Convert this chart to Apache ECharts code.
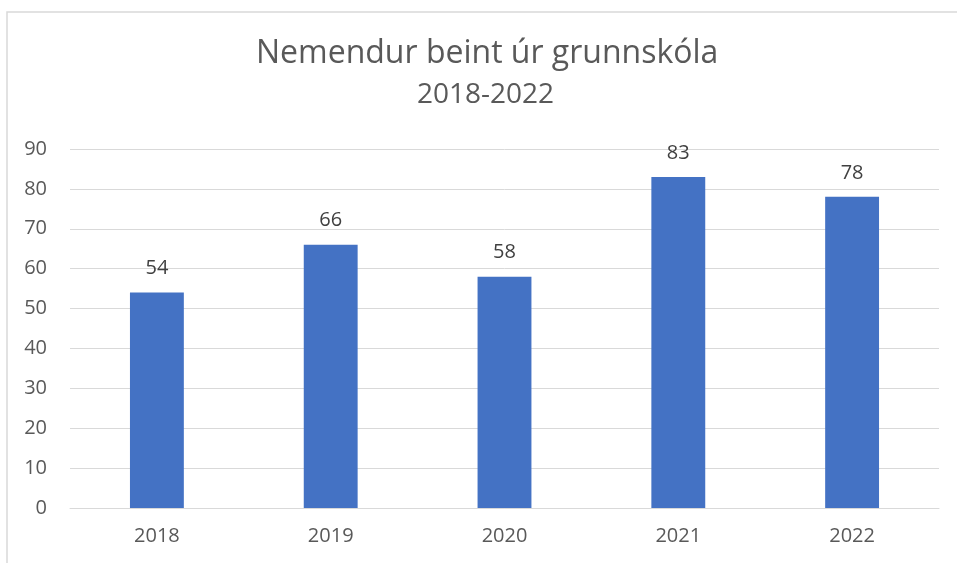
<!DOCTYPE html>
<html>
<head>
<meta charset="utf-8">
<script src="https://cdn.jsdelivr.net/npm/echarts@6/dist/echarts.min.js"></script>
<style>
  html, body { margin: 0; padding: 0; background: #fff; }
  #chart { width: 957px; height: 563px; }
</style>
</head>
<body>
<div id="chart"></div>
<script>
const years = ["2018", "2019", "2020", "2021", "2022"];
const students = [54, 66, 58, 83, 78];
const yTicks = { min: 0, max: 90, step: 10 };

const font = "'Open Sans', 'Noto Sans', sans-serif";

var chart = echarts.init(document.getElementById("chart"));

var option = {
  animation: false,
  backgroundColor: "#ffffff",
  textStyle: { fontFamily: font },
  title: [
    {
      text: "Nemendur beint úr grunnskóla",
      left: 256,
      top: 38,
      padding: 0,
      textStyle: {
        color: "#595959",
        fontSize: 32,
        fontWeight: "normal",
        fontFamily: font
      }
    },
    {
      text: "2018-2022",
      left: 417,
      top: 81,
      padding: 0,
      textStyle: {
        color: "#595959",
        fontSize: 28,
        fontWeight: "normal",
        fontFamily: font
      }
    }
  ],
  graphic: [
    {
      type: "rect",
      shape: { x: 7, y: 12, width: 960, height: 560 },
      style: { fill: "none", stroke: "#d9d9d9", lineWidth: 1.5 },
      silent: true
    }
  ],
  grid: {
    left: 70,
    right: 18,
    top: 149,
    bottom: 55
  },
  xAxis: {
    type: "category",
    data: years,
    axisLine: { show: true, lineStyle: { color: "#d9d9d9" } },
    axisTick: { show: false },
    axisLabel: {
      color: "#595959",
      fontSize: 20,
      margin: 18
    }
  },
  yAxis: {
    type: "value",
    min: yTicks.min,
    max: yTicks.max,
    interval: yTicks.step,
    axisLine: { show: false },
    axisTick: { show: false },
    axisLabel: {
      color: "#595959",
      fontSize: 20,
      margin: 23
    },
    splitLine: { lineStyle: { color: "#d9d9d9", width: 1 } }
  },
  series: [
    {
      type: "bar",
      data: students,
      barWidth: "31%",
      itemStyle: { color: "#4472c4" },
      label: {
        show: true,
        position: "top",
        distance: 14,
        color: "#404040",
        fontSize: 20
      }
    }
  ]
};

chart.setOption(option);
</script>
</body>
</html>
